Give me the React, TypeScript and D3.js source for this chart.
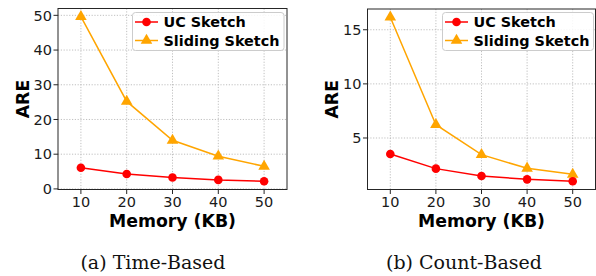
import React from 'react';
import * as d3 from 'd3';

const memory = [10, 20, 30, 40, 50];
const xTicks = [10, 20, 30, 40, 50];

const ucTime = [6.1, 4.3, 3.3, 2.6, 2.2];
const slidingTime = [49.6, 25.2, 14.0, 9.4, 6.5];
const yTicksTime = [0, 10, 20, 30, 40, 50];

const ucCount = [3.52, 2.17, 1.49, 1.18, 1.0];
const slidingCount = [16.16, 6.23, 3.46, 2.2, 1.64];
const yTicksCount = [5, 10, 15];

const seriesNames = ['UC Sketch', 'Sliding Sketch'];
const captions = ['(a)  Time-Based', '(b)  Count-Based'];

const RED = '#ff0000';
const ORANGE = '#ffa500';
const AXIS = '#262626';
const SANS = 'DejaVu Sans, sans-serif';

// matplotlib-like 5% margin around the data
const autoDomain = (vals: number[]) => {
  const lo = d3.min(vals) as number;
  const hi = d3.max(vals) as number;
  const pad = (hi - lo) * 0.05;
  return [lo - pad, hi + pad];
};

const tri = d3.symbol().type(d3.symbolTriangle).size(58);

type PanelProps = {
  box: { x0: number; x1: number; y0: number; y1: number };
  uc: number[];
  sliding: number[];
  yTicks: number[];
  legendX: number;
  legendW: number;
  caption: string;
  captionX: number;
};

const Panel = ({ box, uc, sliding, yTicks, legendX, legendW, caption, captionX }: PanelProps) => {
  const x = d3.scaleLinear().domain([5, 55]).range([box.x0, box.x1]);
  const y = d3.scaleLinear().domain(autoDomain([...uc, ...sliding])).range([box.y1, box.y0]);
  const line = d3.line<number>().x((_, i) => x(memory[i])).y(d => y(d));

  const legendY = 12.5;
  const rows = [
    { name: seriesNames[0], color: RED, marker: 'circle' },
    { name: seriesNames[1], color: ORANGE, marker: 'tri' },
  ];

  return (
    <g>
      {/* grid */}
      {xTicks.map(t => (
        <line key={'gx' + t} x1={x(t)} x2={x(t)} y1={box.y0} y2={box.y1}
          stroke="#b0b0b0" strokeWidth={0.8} strokeDasharray="1.2,1.6" />
      ))}
      {yTicks.map(t => (
        <line key={'gy' + t} x1={box.x0} x2={box.x1} y1={y(t)} y2={y(t)}
          stroke="#b0b0b0" strokeWidth={0.8} strokeDasharray="1.2,1.6" />
      ))}

      {/* series */}
      <path d={line(sliding) || ''} fill="none" stroke={ORANGE} strokeWidth={1.5} />
      {sliding.map((v, i) => (
        <path key={'s' + i} d={tri() || ''} transform={`translate(${x(memory[i])},${y(v)})`} fill={ORANGE} />
      ))}
      <path d={line(uc) || ''} fill="none" stroke={RED} strokeWidth={1.5} />
      {uc.map((v, i) => (
        <circle key={'u' + i} cx={x(memory[i])} cy={y(v)} r={4.3} fill={RED} />
      ))}

      {/* frame */}
      <rect x={box.x0} y={box.y0} width={box.x1 - box.x0} height={box.y1 - box.y0}
        fill="none" stroke={AXIS} strokeWidth={1} />

      {/* ticks */}
      {xTicks.map(t => (
        <g key={'tx' + t}>
          <line x1={x(t)} x2={x(t)} y1={box.y1} y2={box.y1 + 4.5} stroke={AXIS} strokeWidth={1} />
          <text x={x(t)} y={box.y1 + 17.5} textAnchor="middle" fontFamily={SANS} fontSize={14.5} fill="#1a1a1a">{t}</text>
        </g>
      ))}
      {yTicks.map(t => (
        <g key={'ty' + t}>
          <line x1={box.x0 - 4.5} x2={box.x0} y1={y(t)} y2={y(t)} stroke={AXIS} strokeWidth={1} />
          <text x={box.x0 - 6} y={y(t)} dy="0.36em" textAnchor="end" fontFamily={SANS} fontSize={14.5} fill="#1a1a1a">{t}</text>
        </g>
      ))}

      {/* axis titles */}
      <text x={(box.x0 + box.x1) / 2} y={227} textAnchor="middle" fontFamily={SANS} fontWeight="bold" fontSize={17.3} fill="#000">Memory (KB)</text>
      <text transform={`translate(${box.x0 - 29.5},${(box.y0 + box.y1) / 2}) rotate(-90)`} textAnchor="middle"
        fontFamily={SANS} fontWeight="bold" fontSize={17.3} fill="#000">ARE</text>

      {/* legend */}
      <rect x={legendX} y={legendY} width={legendW} height={38} rx={3} fill="#fff" fillOpacity={0.85}
        stroke="#cccccc" strokeWidth={1} />
      {rows.map((r, i) => {
        const cy = legendY + 9.5 + i * 18.5;
        const hx = legendX + 2.5;
        return (
          <g key={r.name}>
            <line x1={hx} x2={hx + 23} y1={cy} y2={cy} stroke={r.color} strokeWidth={1.5} />
            {r.marker === 'circle'
              ? <circle cx={hx + 11.5} cy={cy} r={4.3} fill={r.color} />
              : <path d={tri() || ''} transform={`translate(${hx + 11.5},${cy})`} fill={r.color} />}
            <text x={hx + 28.5} y={cy} dy="0.36em" fontFamily={SANS} fontWeight="bold" fontSize={14.4} fill="#000">{r.name}</text>
          </g>
        );
      })}

      {/* caption */}
      <text x={captionX} y={269} textAnchor="middle" fontFamily="DejaVu Serif, serif" fontSize={19} fill="#111">{caption}</text>
    </g>
  );
};

export default function App() {
  return (
    <svg width={596} height={276} style={{ position: 'absolute', left: 0, top: 0, background: '#fff' }}>
      <rect width={596} height={276} fill="#fff" />
      <Panel box={{ x0: 58, x1: 287, y0: 8.5, y1: 189.5 }} uc={ucTime} sliding={slidingTime} yTicks={yTicksTime}
        legendX={132.5} legendW={151.5} caption={captions[0]} captionX={153} />
      <Panel box={{ x0: 367.5, x1: 595.5, y0: 9, y1: 189.5 }} uc={ucCount} sliding={slidingCount} yTicks={yTicksCount}
        legendX={442.5} legendW={151} caption={captions[1]} captionX={464} />
    </svg>
  );
}
